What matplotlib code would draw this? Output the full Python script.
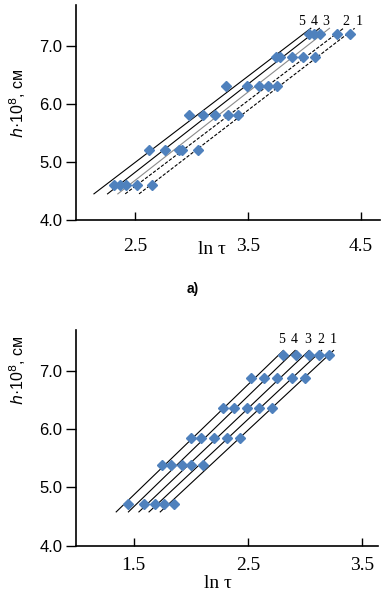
import numpy as np
import matplotlib.pyplot as plt

# panel a): h levels and ln(tau) for curves 1..5
h_a = [4.6, 5.2, 5.8, 6.3, 6.8, 7.2]
lnt_a1 = [2.65, 3.06, 3.41, 3.76, 4.10, 4.41]
lnt_a2 = [2.52, 2.92, 3.33, 3.68, 3.99, 4.29]
lnt_a3 = [2.42, 2.89, 3.21, 3.60, 3.89, 4.14]
lnt_a4 = [2.37, 2.77, 3.10, 3.49, 3.79, 4.09]
lnt_a5 = [2.32, 2.63, 2.98, 3.31, 3.75, 4.04]

# panel b)
h_b = [4.71, 5.38, 5.84, 6.37, 6.87, 7.27]
lnt_b1 = [1.85, 2.11, 2.43, 2.71, 3.00, 3.21]
lnt_b2 = [1.77, 2.00, 2.32, 2.60, 2.89, 3.12]
lnt_b3 = [1.69, 1.92, 2.20, 2.49, 2.76, 3.04]
lnt_b4 = [1.59, 1.83, 2.09, 2.38, 2.64, 2.92]
lnt_b5 = [1.45, 1.75, 2.00, 2.28, 2.53, 2.81]

curve_names = ['1', '2', '3', '4', '5']
yticks = [4.0, 5.0, 6.0, 7.0]
xticks_a = [2.5, 3.5, 4.5]
xticks_b = [1.5, 2.5, 3.5]

blue = '#4f81bd'
serif = 'Liberation Serif'
sans = 'Liberation Sans'

fig = plt.figure(figsize=(3.86, 5.97), dpi=100)
ax1 = fig.add_axes([0.197, 0.6315, 0.787, 0.36])
ax2 = fig.add_axes([0.197, 0.0859, 0.782, 0.3613])


def draw(ax, h, curves, hrange, styles, label_dx, label_y):
    h = np.array(h)
    for i, x in enumerate(curves):
        x = np.array(x)
        a, b = np.polyfit(x, h, 1)
        hh = np.array(hrange)
        xx = (hh - b) / a
        col, ls = styles[i]
        ax.plot(xx, hh, color=col, ls=ls, lw=0.8, zorder=2)
        ax.plot(x, h, 'D', color=blue, ms=5.2, mec=blue, zorder=3)
        ax.text(xx[-1] + label_dx[i], label_y, curve_names[i], fontsize=10,
                family=serif, ha='center', va='bottom')


def style_axes(ax, xlim, xticks, pad):
    ax.set_ylim(4.0, 7.7)
    ax.set_xlim(*xlim)
    ax.set_yticks(yticks)
    ax.set_yticklabels(['%.1f' % v for v in yticks], family=sans, fontsize=12)
    ax.set_xticks(xticks)
    ax.set_xticklabels(['%.1f' % v for v in xticks], family=serif, fontsize=14)
    ax.tick_params(axis='y', direction='out', length=7, width=1, pad=3)
    ax.tick_params(axis='x', direction='in', length=6, width=1, pad=pad)
    for s in ['top', 'right']:
        ax.spines[s].set_visible(False)
    for s in ['left', 'bottom']:
        ax.spines[s].set_linewidth(1.2)


styles_a = [('black', (0, (3, 1.5))), ('black', (0, (3, 1.5))), ('#8a8a8a', '-'),
            ('black', '-'), ('black', '-')]
draw(ax1, h_a, [lnt_a1, lnt_a2, lnt_a3, lnt_a4, lnt_a5], [4.45, 7.3], styles_a,
     [0.04, 0.02, -0.03, -0.05, -0.08], 7.3)
style_axes(ax1, (1.98, 4.67), xticks_a, 13)

styles_b = [('black', '-')] * 5
draw(ax2, h_b, [lnt_b1, lnt_b2, lnt_b3, lnt_b4, lnt_b5], [4.58, 7.35], styles_b,
     [0.0, -0.01, -0.01, -0.01, -0.02], 7.42)
style_axes(ax2, (0.995, 3.64), xticks_b, 8)

# axis labels
for yc in [103, 370]:
    fig.text(18 / 386, 1 - yc / 597, '$h$\u00b710$^8$, см', rotation=90,
             ha='center', va='center', fontsize=11.5, family=sans)
fig.text(212 / 386, 1 - 250 / 597, 'ln \u03c4', ha='center', va='center',
         fontsize=14, family=serif)
fig.text(218 / 386, 1 - 583 / 597, 'ln \u03c4', ha='center', va='center',
         fontsize=14, family=serif)
fig.text(193 / 386, 1 - 289 / 597, 'a)', ha='center', va='center',
         fontsize=10, family=sans, weight='bold')

fig.savefig('out.png', dpi=100)
